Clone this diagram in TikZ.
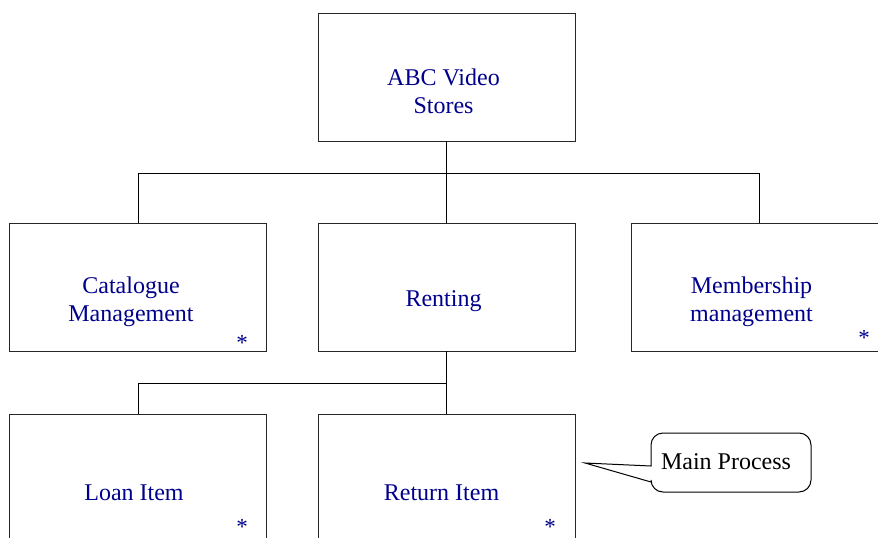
\documentclass[tikz,border=0pt]{standalone}
\usepackage{fontspec}
\setmainfont{Liberation Serif}
\usetikzlibrary{calc}
\definecolor{boxtext}{RGB}{0,0,140}
\tikzset{
  unitbox/.style={draw=black!85, line width=1pt, rectangle, inner sep=0pt, outer sep=0pt,
    minimum width=257pt, minimum height=128pt},
  boxlabel/.style={text=boxtext, align=center, inner sep=0pt, font=\fontsize{24}{28}\selectfont},
  star/.style={text=boxtext, inner sep=0pt, font=\fontsize{23}{28}\selectfont},
  link/.style={line width=1pt, draw=black},
}
\begin{document}
\begin{tikzpicture}[x=1pt,y=-1pt]
  \clip (0,0) rectangle (878,538);
  \fill[white] (0,0) rectangle (878,538);

  % structure chart boxes
  \node[unitbox] (top)  at (446.5,77)  {};
  \node[unitbox] (cat)  at (138,287)   {};
  \node[unitbox] (rent) at (446.5,287) {};
  \node[unitbox] (mem)  at (759.5,287) {};
  \node[unitbox] (loan) at (138,478)   {};
  \node[unitbox] (ret)  at (446.5,478) {};

  % labels
  \node[boxlabel] (topt)  at ($(top)+(-3,14)$)   {ABC Video\\Stores};
  \node[boxlabel] (catt)  at ($(cat)+(-7,15)$)   {Catalogue\\Management};
  \node[boxlabel] (rentt) at ($(rent)+(-3,14)$)  {Renting};
  \node[boxlabel] (memt)  at ($(mem)+(-8,15)$)   {Membership\\management};
  \node[boxlabel] (loant) at ($(loan)+(-4,15)$)  {Loan Item};
  \node[boxlabel] (rett)  at ($(ret)+(-5,15)$)   {Return Item};

  % repeated-unit markers
  \node[star] (cats)  at (242,343) {*};
  \node[star] (mems)  at (864,338) {*};
  \node[star] (loans) at (242,527) {*};
  \node[star] (rets)  at (550,527) {*};

  % connectors
  \coordinate (j1) at ($(top.south)+(0,32)$);
  \coordinate (j2) at ($(rent.south)+(0,32)$);
  \draw[link] (top.south) -- (j1) -- (rent.north);
  \draw[link] (j1) -| (cat.north);
  \draw[link] (j1) -| (mem.north);
  \draw[link] (rent.south) -- (j2) -- (ret.north);
  \draw[link] (j2) -| (loan.north);

  % callout
  \node[inner sep=0pt, font=\fontsize{24}{28}\selectfont] (mp) at (726,462) {Main Process};
  \draw[line width=1pt] (651,466) [rounded corners=12pt] -- (651,433) -- (811,433) -- (811,492)
    -- (651,492) [sharp corners] -- (651,482) -- (585,463) -- cycle;
\end{tikzpicture}
\end{document}
